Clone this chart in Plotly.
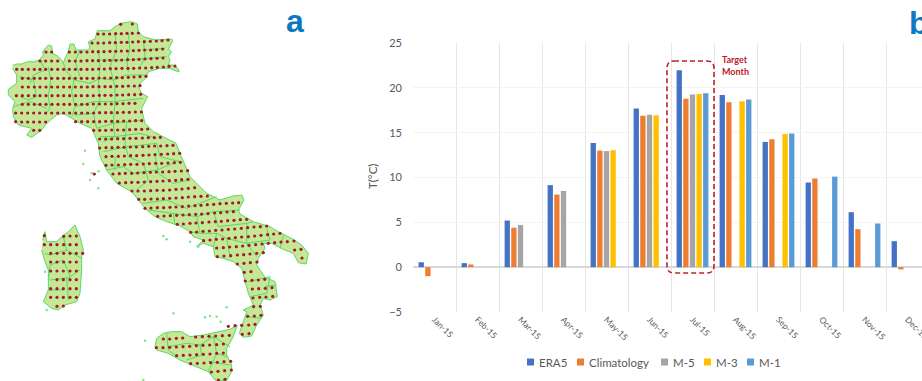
import plotly.graph_objects as go

# ---------- bar chart data ----------
months = ["Jan-15","Feb-15","Mar-15","Apr-15","May-15","Jun-15","Jul-15","Aug-15","Sep-15","Oct-15","Nov-15","Dec-15"]
era5        = [0.55, 0.45, 5.2, 9.15, 13.85, 17.7, 21.95, 19.2, 13.97, 9.44, 6.13, 2.9]
climatology = [-1.0, 0.3, 4.4, 8.1, 13.0, 16.9, 18.77, 18.4, 14.27, 9.89, 4.24, -0.25]
m5          = [None, None, 4.7, 8.5, 12.95, 17.0, 19.25, None, None, None, None, None]
m3          = [None, None, None, None, 13.05, 16.95, 19.3, 18.5, 14.86, None, None, None]
m1          = [None, None, None, None, None, None, 19.4, 18.7, 14.9, 10.1, 4.87, None]
series_names = ["ERA5", "Climatology", "M-5", "M-3", "M-1"]
series_values = [era5, climatology, m5, m3, m1]
series_colors = ["#4472C4", "#ED7D31", "#A5A5A5", "#FFC000", "#5B9BD5"]
y_ticks = [-5, 0, 5, 10, 15, 20, 25]

# ---------- map data (map units; the lower half is read with an offset) ----------
LOWER = 570
mainland_upper = [(38,197),(50,192),(65,192),(85,184),(100,186),(118,180),(130,165),(128,155),(145,135),(155,138),(158,160),(172,168),(185,180),(190,190),(197,170),(205,155),(210,132),(222,132),(228,150),(262,150),(270,145),(265,125),(285,117),(292,92),(330,92),(345,80),(362,70),(395,65),(412,72),(415,95),(430,110),(465,120),(515,117),(518,122),(505,148),(515,155),(505,170),(510,180),(505,195),(520,195),(535,207),(537,215),(525,212),(510,205),(480,205),(445,215),(437,235),(425,245),(415,260),(425,280),(443,290),(435,305),(425,325),(430,350),(435,370),(460,395),(490,410),(528,430),(540,460),(553,490),(570,530),(610,570)]
mainland_lower = [(620,10),(660,30),(700,18),(725,15),(732,30),(715,60),(720,72),(760,95),(810,110),(835,125),(880,148),(905,165),(925,190),(918,222),(895,218),(880,190),(850,178),(815,160),(790,160),(795,175),(775,205),(770,225),(785,245),(795,262),(825,275),(832,320),(810,330),(790,325),(780,345),(790,375),(770,405),(755,438),(730,442),(718,430),(730,395),(740,365),(730,360),(760,345),(745,310),(735,270),(725,235),(700,215),(670,205),(645,200),(640,170),(610,160),(590,170),(610,150),(580,140),(570,125),(540,108),(500,95),(465,80),(440,60),(415,30),(395,5)]
mainland_back = [(350,550),(320,510),(300,470),(295,430),(275,385),(240,370),(215,355),(190,340),(170,345),(140,370),(125,390),(95,412),(80,405),(95,385),(55,375),(40,350),(38,325),(45,305),(25,285),(25,268),(50,250),(50,225),(38,205)]
sicily = [(465,470),(470,445),(490,430),(515,425),(545,425),(570,440),(610,435),(660,425),(690,418),(712,405),(700,440),(680,475),(680,495),(695,525),(695,545),(680,572),(645,570),(625,545),(575,525),(540,510),(505,490),(470,480)]
sardinia = [(128,150),(135,125),(140,155),(170,155),(185,140),(205,125),(225,105),(240,140),(250,180),(245,200),(245,240),(240,310),(230,335),(195,345),(175,360),(155,355),(130,335),(145,300),(145,270),(145,240),(135,215),(125,180)]
islands_upper = [(255,452),(250,492),(270,540),(295,565),(275,520),(296,514)]
islands_lower = [(490,138),(500,148),(570,155),(595,170),(520,370),(680,352),(615,382),(630,378),(650,380),(662,395),(435,452),(430,570),(135,245),(140,360)]

borders_upper = [
 [(190,190),(200,215),(222,240),(215,275),(225,320),(215,350)],
 [(145,200),(152,240),(145,290),(150,325),(135,345)],
 [(120,180),(135,210),(100,225),(90,250)],
 [(60,230),(100,240),(110,290),(85,300),(60,290)],
 [(40,320),(90,305),(140,325)],
 [(222,240),(270,250),(300,235),(340,240),(380,225),(440,225)],
 [(295,150),(300,200),(295,250),(300,300),(280,340),(225,345)],
 [(225,320),(280,305),(340,305),(430,295)],
 [(345,100),(350,150),(330,200),(345,260),(345,305)],
 [(430,120),(435,170),(420,200)],
 [(385,100),(390,150),(380,180),(385,215)],
 [(430,150),(495,145)],
 [(300,180),(385,180),(500,170)],
 [(240,150),(225,185),(240,230)],
 [(280,340),(290,385),(340,370),(430,360)],
 [(345,305),(340,370),(345,410),(310,425)],
 [(300,410),(345,410),(420,400),(470,415)],
 [(380,365),(375,430),(385,470),(430,490),(445,540),(410,570)],
 [(310,455),(380,440),(470,430),(480,470),(540,485)],
 [(320,510),(370,500),(400,520),(470,510),(520,490)],
 [(345,470),(345,510)],
 [(465,465),(475,520)],
 [(475,520),(520,550),(570,540)],
]
borders_lower = [
 [(430,40),(500,30),(560,55),(600,40),(650,20)],
 [(445,60),(520,70),(590,80),(640,65),(720,60)],
 [(520,70),(525,105)],
 [(590,80),(600,130),(570,125)],
 [(640,65),(655,110),(740,100),(760,95)],
 [(600,130),(650,130),(680,145),(690,200)],
 [(650,130),(640,170)],
 [(740,100),(740,160),(770,200)],
 [(800,115),(810,150),(740,160)],
 [(680,145),(740,160)],
 [(850,135),(840,175)],
 [(745,275),(810,260),(800,310),(750,320)],
 [(795,290),(830,285)],
 [(745,380),(785,385)],
 [(190,140),(200,180),(150,195),(135,190)],
 [(200,180),(245,205)],
 [(190,210),(210,260),(240,240)],
 [(190,210),(150,225),(145,270)],
 [(150,270),(210,262)],
 [(200,262),(205,330)],
 [(145,300),(190,300)],
 [(500,430),(505,480),(530,500)],
 [(505,470),(560,460),(600,465),(605,495),(560,510)],
 [(600,465),(640,440),(690,470)],
 [(640,440),(650,490),(625,545)],
 [(650,490),(680,500)],
 [(625,515),(690,525)],
]

grid_upper = [
 (362,73),(397,72),
 (294,102),(311,102),(329,102),(347,101),(364,101),(381,100),(397,100),(415,99),
 (276,129),(294,129),(311,129),(329,128),(346,128),(364,127),(381,127),(398,126),(415,125),(433,125),(451,124),(469,123),(486,122),(504,120),
 (138,156),(155,156),(208,156),(226,156),(243,156),(261,156),(278,155),(295,155),(312,155),(330,154),(347,154),(364,153),(382,153),(400,152),(417,151),(434,150),(452,150),(470,149),(488,147),
 (120,183),(137,183),(155,183),(173,183),(208,183),(226,183),(243,183),(261,182),(278,182),(295,182),(313,182),(330,181),(348,181),(365,180),(383,179),(400,179),(417,178),(435,177),(453,176),(471,175),(489,174),
 (50,208),(67,208),(85,208),(103,208),(120,208),(137,208),(155,208),(173,208),(191,208),(208,208),(226,208),(243,208),(261,208),(278,208),(296,207),(313,207),(331,206),(348,206),(366,205),(384,205),(401,205),(419,204),(437,204),(455,203),(472,202),(490,201),(507,199),(525,198),
 (67,235),(85,235),(103,235),(120,235),(137,235),(155,235),(173,235),(191,235),(208,235),(226,235),(244,235),(261,235),(279,235),(297,234),(314,234),(332,234),(350,233),(367,233),(385,232),(402,231),(420,230),(438,229),
 (67,261),(85,261),(103,261),(120,261),(138,261),(155,261),(173,261),(191,261),(209,261),(226,261),(244,261),(262,261),(279,260),(297,260),(315,260),(332,260),(350,259),(368,259),(385,258),(403,258),(420,257),
 (49,287),(67,287),(85,287),(103,287),(120,287),(138,287),(156,287),(174,287),(191,287),(209,287),(227,287),(244,287),(262,287),(280,287),(298,286),(315,286),(333,286),(351,285),(368,285),(386,284),(404,284),(422,283),
 (67,313),(85,313),(103,313),(120,313),(138,313),(156,313),(174,313),(192,313),(209,313),(227,313),(245,313),(262,313),(280,312),(298,312),(316,312),(334,312),(351,311),(369,311),(387,310),(405,310),
 (47,339),(65,339),(83,339),(101,339),(119,339),(137,339),(155,339),(173,339),(191,339),(209,339),(227,339),(245,339),(263,339),(281,339),(299,338),(317,338),(334,338),(352,338),(370,337),(388,337),(406,336),(424,336),
 (47,365),(65,366),(83,366),(101,366),(119,366),(137,366),(227,365),(245,365),(263,365),(281,365),(299,365),(317,364),(335,364),(353,364),(371,363),(389,363),(407,362),(425,362),
 (101,391),(119,391),(281,391),(299,391),(317,391),(335,390),(353,390),(371,390),(389,389),(407,388),(425,388),(443,387),
 (299,417),(317,417),(335,417),(353,416),(371,416),(390,415),(408,415),(427,414),(445,413),(463,413),(481,412),
 (299,444),(318,443),(336,443),(354,442),(372,442),(391,441),(409,441),(428,440),(446,439),(464,438),(482,438),(501,437),(519,436),
 (318,470),(336,469),(355,469),(373,468),(392,467),(410,467),(429,466),(447,465),(465,464),(484,463),(503,462),(521,461),(539,460),
 (318,496),(336,495),(355,495),(374,494),(392,493),(411,493),(430,492),(448,491),(467,490),(485,490),(504,489),(523,488),(541,487),
 (283,522),(339,522),(358,521),(376,520),(395,520),(413,519),(432,518),(451,517),(469,516),(488,516),(507,515),(525,514),(544,513),(563,512),
 (358,549),(377,548),(395,547),(414,547),(433,546),(452,545),(471,544),(489,543),(508,542),(527,541),(545,539),(564,538),
]
grid_lower = [
 (396,3),(414,3),(433,3),(452,2),(471,1),(490,1),(509,0),(528,-2),(546,-3),(565,-5),(584,-7),
 (416,28),(434,28),(453,27),(472,27),(490,26),(509,25),(528,24),(547,23),(565,21),(584,20),(603,19),(622,18),
 (435,55),(453,54),(472,53),(491,53),(510,52),(528,51),(547,50),(566,48),(585,47),(603,46),(622,44),(641,43),(660,41),(679,40),(698,39),(716,38),
 (473,79),(492,78),(511,77),(530,76),(549,75),(568,74),(587,73),(605,72),(624,71),(644,69),(662,68),(681,66),(700,65),
 (532,103),(550,102),(570,100),(588,99),(607,98),(627,96),(646,95),(664,94),(683,92),(702,91),(721,89),(740,88),
 (572,127),(590,126),(609,124),(628,123),(647,121),(666,120),(685,118),(704,117),(724,115),(743,113),(762,111),(781,110),(800,108),
 (611,152),(630,150),(649,148),(668,147),(687,145),(706,143),(725,141),(745,140),(764,138),(783,136),(803,134),(821,132),(840,130),
 (650,174),(670,173),(689,171),(709,170),(728,168),(747,166),(767,164),(786,162),(805,160),(824,158),(843,156),(862,155),(882,153),
 (652,200),(672,198),(692,197),(712,195),(731,194),(750,192),(770,190),(790,188),(884,180),(903,178),
 (712,222),(732,220),(751,218),(771,216),(906,204),
 (733,247),(753,245),
 (736,273),(756,271),(775,270),(794,268),
 (757,297),(776,296),(796,295),(816,293),
 (759,324),(779,322),(798,321),(818,319),
 (761,350),(781,349),
 (743,379),(763,378),(783,376),
 (685,409),(705,407),(725,406),(746,405),(765,403),
 (727,433),(747,431),
 (133,137),(191,139),(210,138),(229,138),
 (133,164),(152,164),(171,164),(191,164),(210,164),(229,164),
 (152,190),(171,190),(191,190),(210,190),(229,190),(248,190),
 (152,216),(171,216),(191,216),(210,216),(229,216),
 (152,243),(171,243),(190,243),(210,243),(229,243),
 (171,269),(190,269),(210,269),(229,269),
 (152,296),(171,296),(190,296),(210,296),(229,296),
 (152,322),(171,322),(190,322),(210,322),(229,322),
 (171,349),(190,348),
 (490,447),(509,447),(529,445),(548,444),(587,441),(607,440),(627,439),(647,438),(667,437),(688,436),
 (469,473),(489,473),(509,472),(529,471),(549,470),(569,469),(589,467),(609,466),(629,465),(650,464),(670,462),
 (530,497),(550,496),(570,495),(590,494),(610,493),(630,492),(650,490),(670,489),
 (572,521),(592,520),(612,519),(632,518),(652,517),(672,515),(692,514),
 (634,546),(654,544),(674,542),(694,540),
 (655,570),(675,568),
]

# ---------- layout helpers ----------
W, H = 922, 381
px = lambda v: v / W
py = lambda v: 1 - v / H
TEXT = "#595959"
FONT = "Lato"

def shift(pts, dy=LOWER):
    return [(x, y + dy) for x, y in pts]

def with_breaks(parts):
    xs, ys = [], []
    for part in parts:
        xs += [p[0] for p in part] + [None]
        ys += [p[1] for p in part] + [None]
    return xs, ys

fig = go.Figure()

# map
land_x, land_y = with_breaks([mainland_upper + shift(mainland_lower) + mainland_back,
                              shift(sicily), shift(sardinia)])
fig.add_trace(go.Scatter(x=land_x, y=land_y, mode="lines", fill="toself", fillcolor="#C6E796",
                         line=dict(color="#55DB66", width=1), xaxis="x2", yaxis="y2",
                         showlegend=False, hoverinfo="skip"))
line_x, line_y = with_breaks(borders_upper + [shift(b) for b in borders_lower])
fig.add_trace(go.Scatter(x=line_x, y=line_y, mode="lines", line=dict(color="#55DB66", width=1),
                         xaxis="x2", yaxis="y2", showlegend=False, hoverinfo="skip"))
isl = islands_upper + shift(islands_lower)
fig.add_trace(go.Scatter(x=[p[0] for p in isl], y=[p[1] for p in isl], mode="markers",
                         marker=dict(color="#7FE48C", size=2.5), xaxis="x2", yaxis="y2",
                         showlegend=False, hoverinfo="skip"))
grid = grid_upper + shift(grid_lower)
fig.add_trace(go.Scatter(x=[p[0] for p in grid], y=[p[1] for p in grid], mode="markers",
                         marker=dict(color="#A01C2C", size=3.2), xaxis="x2", yaxis="y2",
                         showlegend=False))

# bars
for name, vals, col in zip(series_names, series_values, series_colors):
    fig.add_trace(go.Bar(x=months, y=vals, name=name, marker=dict(color=col, line=dict(width=0)),
                         showlegend=False))

# dashed target-month box
L, R, T, B, r = px(667), px(714), py(61), py(273), 7
rx, ry = r / W, r / H
box = (f"M {L+rx} {T} L {R-rx} {T} Q {R} {T} {R} {T-ry} L {R} {B+ry} Q {R} {B} {R-rx} {B} "
       f"L {L+rx} {B} Q {L} {B} {L} {B+ry} L {L} {T-ry} Q {L} {T} {L+rx} {T} Z")
shapes = [dict(type="path", path=box, xref="paper", yref="paper",
               line=dict(color="#C0202A", width=1.6, dash="5px,3px"))]

annotations = [
    dict(text="<b>a</b>", x=px(295), y=py(33), yanchor="bottom", xanchor="center", yshift=-8,
         font=dict(family="Liberation Sans", size=32, color="#0B78C2")),
    dict(text="<b>b</b>", x=px(907), y=py(35), yanchor="bottom", xanchor="left", yshift=-8,
         font=dict(family="Liberation Sans", size=32, color="#0B78C2")),
    dict(text="<b>Target<br>Month</b>", x=px(720), y=py(65), xanchor="left", yanchor="middle", align="left",
         font=dict(family=FONT, size=9, color="#C0202A")),
    dict(text="T(°C)", x=px(372), y=py(177), textangle=-90, xanchor="center", yanchor="middle",
         font=dict(family=FONT, size=11.5, color=TEXT)),
]

# key
key_x = [527, 577, 661, 704, 747]
for name, col, kx in zip(series_names, series_colors, key_x):
    shapes.append(dict(type="rect", xref="paper", yref="paper", x0=px(kx), x1=px(kx + 7),
                       y0=py(365.5), y1=py(358.5), fillcolor=col, line=dict(width=0)))
    annotations.append(dict(text=name, x=px(kx + 10), y=py(362), xanchor="left", yanchor="middle",
                            font=dict(family=FONT, size=11.5, color=TEXT)))
for a in annotations:
    a.update(xref="paper", yref="paper", showarrow=False)

fig.update_layout(
    width=W, height=H, autosize=False, margin=dict(l=0, r=0, t=0, b=0, autoexpand=False),
    paper_bgcolor="white", plot_bgcolor="white", showlegend=False,
    barmode="group", bargap=0.23, bargroupgap=0.2,
    shapes=shapes, annotations=annotations,
    xaxis=dict(domain=[px(413), 1], type="category", categoryorder="array", categoryarray=months,
               range=[-0.5, 11.337], tickson="boundaries", ticks="outside", ticklen=0, tickcolor="#E6E6E6",
               showgrid=True, gridcolor="#E6E6E6", gridwidth=1.2, tickangle=45, showline=False, zeroline=False,
               automargin=False, tickfont=dict(family=FONT, size=8.5, color=TEXT), anchor="y"),
    yaxis=dict(domain=[py(312), py(43)], range=[-5, 25], tickvals=y_ticks, showgrid=True,
               gridcolor="#F4F4F4", gridwidth=1, zeroline=True, zerolinecolor="#D9D9D9", zerolinewidth=1.5,
               showline=False, ticks="", automargin=False, ticklabelstandoff=10,
               tickfont=dict(family=FONT, size=11, color=TEXT), anchor="x"),
    xaxis2=dict(domain=[0, px(320)], range=[0, 960], visible=False, anchor="y2", fixedrange=True, automargin=False),
    yaxis2=dict(domain=[0, 1], range=[1143, 0], visible=False, anchor="x2", fixedrange=True, automargin=False),
)

fig.write_html("out.html", config={"displayModeBar": False},
               post_script="document.body.style.margin='0';document.body.style.overflow='hidden';")
